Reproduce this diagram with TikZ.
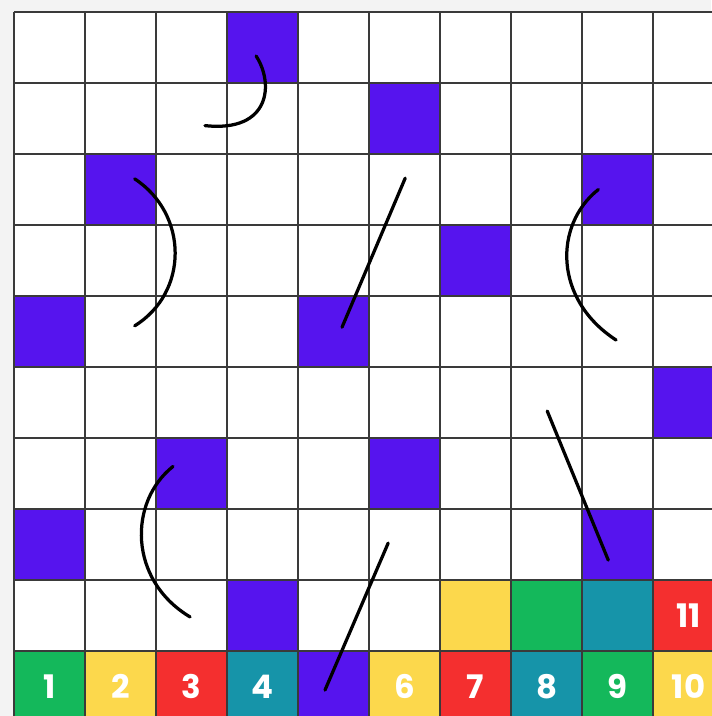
\documentclass[tikz,border=0pt]{standalone}
\usepackage{fontspec}
\usepackage{tikz}
\newfontfamily\boardfont{Poppins}
\definecolor{bgray}{HTML}{F3F3F3}
\definecolor{gridc}{HTML}{3A3A3A}
\definecolor{bpurple}{HTML}{5614EE}
\definecolor{bgreen}{HTML}{14B85B}
\definecolor{byellow}{HTML}{FCD84C}
\definecolor{bred}{HTML}{F42F2F}
\definecolor{bteal}{HTML}{1694A9}
\newcommand{\boardcell}[3]{\fill[#3] (#1,#2) rectangle ++(1,1);}

\begin{document}
\begin{tikzpicture}[
    gridline/.style={gridc, line width=0.9pt},
    snakeline/.style={black, line width=1.3pt, line cap=round},
    numlabel/.style={text=white, font=\boardfont\bfseries\fontsize{13}{13}\selectfont}
]
    % Background and board
    \useasboundingbox (-0.197,0.085) rectangle (9.817,10.169);
    \fill[bgray] (-0.197,0.085) rectangle (9.817,10.169);
    \fill[white] (0,0) rectangle (10,10);

    % Purple cells
    \boardcell{3}{9}{bpurple}
    \boardcell{5}{8}{bpurple}
    \boardcell{1}{7}{bpurple}
    \boardcell{8}{7}{bpurple}
    \boardcell{6}{6}{bpurple}
    \boardcell{0}{5}{bpurple}
    \boardcell{4}{5}{bpurple}
    \boardcell{9}{4}{bpurple}
    \boardcell{2}{3}{bpurple}
    \boardcell{5}{3}{bpurple}
    \boardcell{0}{2}{bpurple}
    \boardcell{8}{2}{bpurple}
    \boardcell{3}{1}{bpurple}

    % Coloured cells
    \boardcell{6}{1}{byellow}
    \boardcell{7}{1}{bgreen}
    \boardcell{8}{1}{bteal}
    \boardcell{9}{1}{bred}
    \boardcell{0}{0}{bgreen}
    \boardcell{1}{0}{byellow}
    \boardcell{2}{0}{bred}
    \boardcell{3}{0}{bteal}
    \boardcell{4}{0}{bpurple}
    \boardcell{5}{0}{byellow}
    \boardcell{6}{0}{bred}
    \boardcell{7}{0}{bteal}
    \boardcell{8}{0}{bgreen}
    \boardcell{9}{0}{byellow}

    % Grid
    \draw[gridline] (0,0) grid (10,10);

    % Numbers
    \node[numlabel] (n1) at (0.5,0.5) {1};
    \node[numlabel] (n2) at (1.5,0.5) {2};
    \node[numlabel] (n3) at (2.5,0.5) {3};
    \node[numlabel] (n4) at (3.5,0.5) {4};
    \node[numlabel] (n6) at (5.5,0.5) {6};
    \node[numlabel] (n7) at (6.5,0.5) {7};
    \node[numlabel] (n8) at (7.5,0.5) {8};
    \node[numlabel] (n9) at (8.5,0.5) {9};
    \node[numlabel] (n10) at (9.5,0.5) {10};
    \node[numlabel] (n11) at (9.5,1.5) {11};

    % Curves
    \draw[snakeline] (3.41,9.38) .. controls (3.66,9.0) and (3.62,8.30) .. (2.69,8.40);
    \draw[snakeline] (1.70,7.65) .. controls (2.46,7.15) and (2.46,6.05) .. (1.70,5.58);
    \draw[snakeline] (8.23,7.50) .. controls (7.60,7.0) and (7.60,5.95) .. (8.48,5.38);
    \draw[snakeline] (2.24,3.60) .. controls (1.61,3.1) and (1.61,2.0) .. (2.48,1.48);

    % Straight lines
    \draw[snakeline] (5.51,7.66) -- (4.62,5.56);
    \draw[snakeline] (7.51,4.38) -- (8.37,2.28);
    \draw[snakeline] (5.27,2.52) -- (4.38,0.45);
\end{tikzpicture}
\end{document}
